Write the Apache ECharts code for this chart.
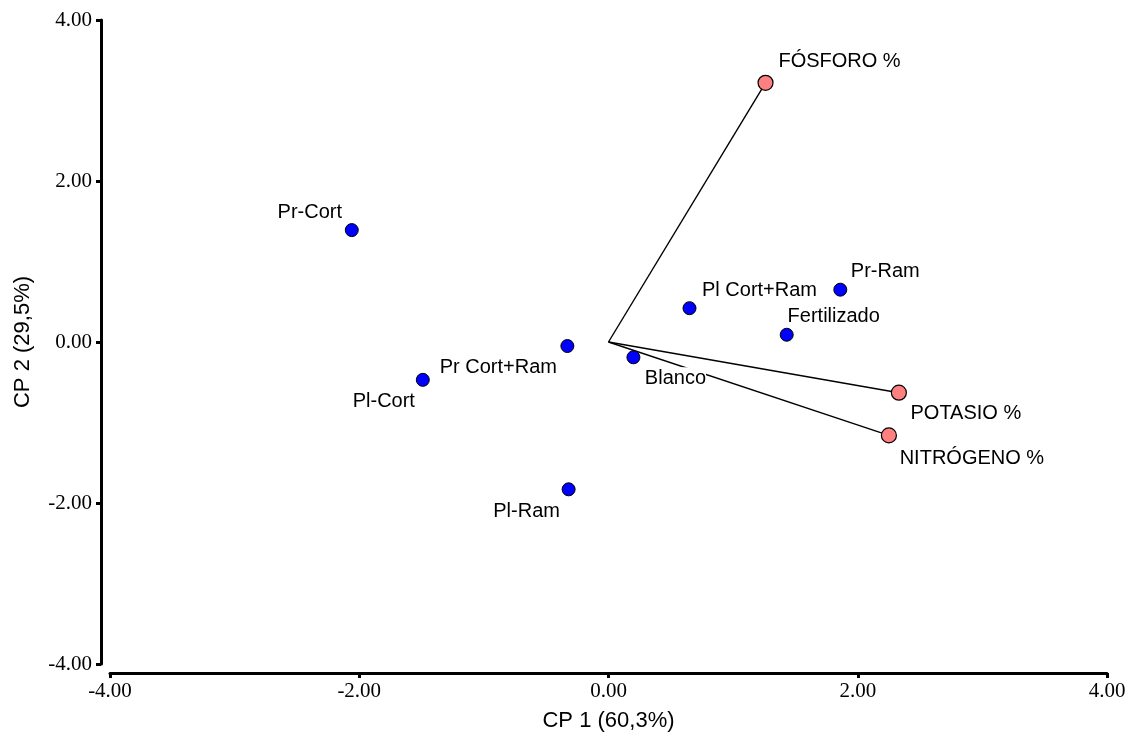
<!DOCTYPE html>
<html>
<head>
<meta charset="utf-8">
<script src="https://cdn.jsdelivr.net/npm/echarts@6/dist/echarts.min.js"></script>
<style>html,body{margin:0;padding:0;background:#fff}#c{width:1134px;height:737px}</style>
</head>
<body>
<div id="c"></div>
<script>
// Observations (CP1, CP2 scores)
const obsNames = ['Pr-Cort', 'Pl-Cort', 'Pr Cort+Ram', 'Blanco', 'Pl-Ram', 'Pl Cort+Ram', 'Fertilizado', 'Pr-Ram'];
const obsX = [-2.06, -1.49, -0.33, 0.20, -0.32, 0.65, 1.43, 1.86];
const obsY = [1.39, -0.47, -0.05, -0.19, -1.83, 0.42, 0.09, 0.65];
// Variables (loadings)
const varNames = ['FÓSFORO %', 'POTASIO %', 'NITRÓGENO %'];
const varX = [1.26, 2.33, 2.25];
const varY = [3.22, -0.63, -1.16];
// Axis ticks
const axisMin = -4, axisMax = 4, axisStep = 2;
const xAxisName = 'CP 1 (60,3%)';
const yAxisName = 'CP 2 (29,5%)';

// label placement (style)
const labelOffsets = {
  'Pr-Cort': [-42, -18], 'Pl-Cort': [-39, 22], 'Pr Cort+Ram': [-69, 21], 'Blanco': [42, 21],
  'Pl-Ram': [-42, 22], 'Pl Cort+Ram': [70, -18], 'Fertilizado': [47, -18], 'Pr-Ram': [45, -18],
  'FÓSFORO %': [74, -21], 'POTASIO %': [67, 21], 'NITRÓGENO %': [83, 23]
};

const chart = echarts.init(document.getElementById('c'), null, {renderer: 'canvas'});
const sans = 'Liberation Sans, Arial, sans-serif';
const serif = 'Liberation Serif, Times New Roman, serif';

function axisCommon(name, gap, off) {
  return {
    type: 'value', min: axisMin, max: axisMax, interval: axisStep, offset: off,
    name: name, nameLocation: 'middle', nameGap: gap,
    nameTextStyle: {fontFamily: sans, fontSize: 22, color: '#000'},
    axisLine: {show: true, onZero: false, lineStyle: {color: '#000', width: 3}},
    axisTick: {show: true, length: 5, lineStyle: {color: '#000', width: 3}},
    axisLabel: {formatter: v => v.toFixed(2), fontFamily: serif, fontSize: 21, color: '#000'},
    splitLine: {show: false}
  };
}

const xAxis = axisCommon(xAxisName, 37, 9);
xAxis.axisLabel.margin = 8;
const yAxis = axisCommon(yAxisName, 67, 9);
yAxis.axisLabel.margin = 9;

const series = [];
varNames.forEach((n, i) => {
  series.push({
    type: 'line', silent: true, z: 1, symbol: 'none', animation: false,
    data: [[0, 0], [varX[i], varY[i]]],
    lineStyle: {color: '#000', width: 1.4}
  });
});

function pointData(names, xs, ys) {
  return names.map((n, i) => ({
    name: n, value: [xs[i], ys[i]],
    label: Object.assign({offset: labelOffsets[n]}, n === 'Blanco' ? {backgroundColor: '#fff', padding: [2, 0, 0, 0]} : {})
  }));
}
const labelStyle = {show: true, position: 'inside', formatter: '{b}', fontFamily: sans, fontSize: 20, color: '#000'};

series.push({
  type: 'scatter', z: 3, animation: false, symbolSize: 13,
  data: pointData(obsNames, obsX, obsY),
  itemStyle: {color: '#0000FF', borderColor: '#000', borderWidth: 1, opacity: 1},
  label: labelStyle
});
series.push({
  type: 'scatter', z: 3, animation: false, symbolSize: 15,
  data: pointData(varNames, varX, varY),
  itemStyle: {color: '#FF8080', borderColor: '#000', borderWidth: 1.2, opacity: 1},
  label: labelStyle
});

chart.setOption({
  backgroundColor: '#fff',
  animation: false,
  grid: {left: 110, right: 27, top: 20, bottom: 72, containLabel: false},
  xAxis: xAxis,
  yAxis: yAxis,
  series: series
});
</script>
</body>
</html>
